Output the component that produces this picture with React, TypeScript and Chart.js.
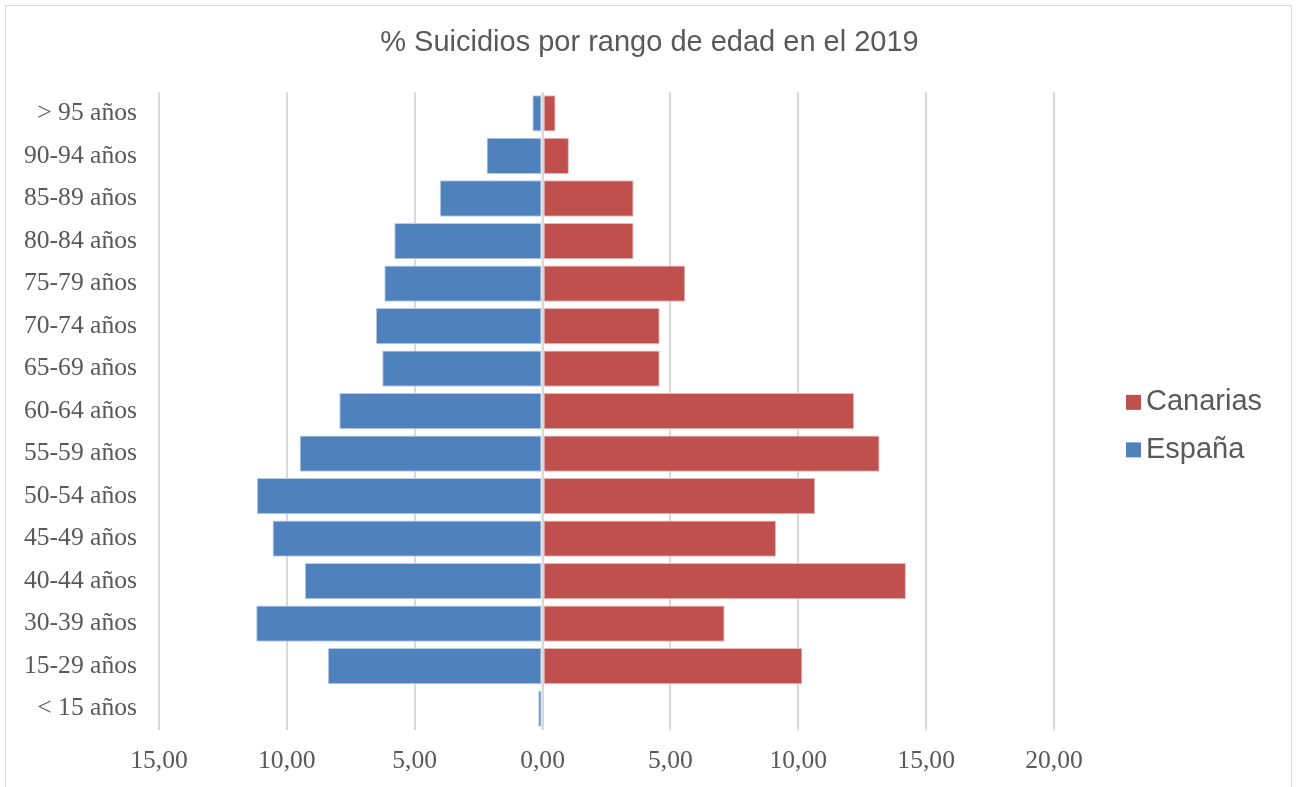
import React, { useEffect, useRef } from "react";
import { Chart, registerables, layouts } from "chart.js";

Chart.register(...registerables);

// Age ranges, top of the pyramid first
const ageRanges = [
  "> 95 años",
  "90-94 años",
  "85-89 años",
  "80-84 años",
  "75-79 años",
  "70-74 años",
  "65-69 años",
  "60-64 años",
  "55-59 años",
  "50-54 años",
  "45-49 años",
  "40-44 años",
  "30-39 años",
  "15-29 años",
  "< 15 años",
];

// Share of suicides (%) per age range
const espana = [0.4, 2.19, 4.02, 5.8, 6.19, 6.52, 6.27, 7.95, 9.5, 11.17, 10.56, 9.3, 11.2, 8.4, 0.17];
const canarias = [0.51, 1.03, 3.56, 3.56, 5.58, 4.58, 4.58, 12.18, 13.18, 10.66, 9.13, 14.21, 7.12, 10.16, 0];

const xTicks = [-15, -10, -5, 0, 5, 10, 15, 20];

const TITLE = "% Suicidios por rango de edad en el 2019";
const BLUE = "#4F81BD";
const RED = "#C0504D";
const TEXT = "#595959";
const GRID = "#D9D9D9";
const SERIF = '"Liberation Serif", "Times New Roman", serif';
const SANS = '"Liberation Sans", Arial, sans-serif';

const LEGEND_WIDTH = 245;

// Legend drawn in its own layout box on the right of the plot
const sideLegend = {
  id: "sideLegend",
  beforeInit(chart: any) {
    const box: any = {
      position: "right",
      weight: 100,
      fullSize: false,
      options: {},
      left: 0,
      top: 0,
      right: 0,
      bottom: 0,
      width: 0,
      height: 0,
      isHorizontal() {
        return false;
      },
      update(_maxWidth: number, maxHeight: number) {
        this.width = LEGEND_WIDTH;
        this.height = maxHeight;
      },
      draw() {
        const ctx = chart.ctx;
        const area = chart.chartArea;
        const items = chart.data.datasets
          .map((d: any) => ({ label: d.label, color: d.backgroundColor }))
          .reverse();
        const gap = 47.5;
        const mid = (area.top + area.bottom) / 2 + 15;
        const y0 = mid - (gap * (items.length - 1)) / 2;
        ctx.save();
        ctx.font = `29px ${SANS}`;
        ctx.textBaseline = "middle";
        ctx.textAlign = "left";
        items.forEach((it: any, i: number) => {
          const y = y0 + i * gap;
          const bx = this.left + 72;
          ctx.fillStyle = it.color;
          ctx.fillRect(bx, y - 7.5, 15, 15);
          ctx.fillStyle = TEXT;
          ctx.fillText(it.label, bx + 20, y);
        });
        ctx.restore();
      },
    };
    layouts.addBox(chart, box);
  },
};

// Category axis line at 0, drawn over the bars
const zeroLine = {
  id: "zeroLine",
  afterDatasetsDraw(chart: any) {
    const ctx = chart.ctx;
    const x = chart.scales.x.getPixelForValue(0);
    const { top, bottom } = chart.chartArea;
    ctx.save();
    ctx.strokeStyle = GRID;
    ctx.lineWidth = 2;
    ctx.beginPath();
    ctx.moveTo(x, top);
    ctx.lineTo(x, bottom);
    ctx.stroke();
    ctx.restore();
  },
};

export default function App() {
  const canvasRef = useRef<HTMLCanvasElement | null>(null);

  useEffect(() => {
    if (!canvasRef.current) return;
    const chart = new Chart(canvasRef.current, {
      type: "bar",
      data: {
        labels: ageRanges,
        datasets: [
          {
            label: "España",
            data: espana.map((v) => -v),
            backgroundColor: BLUE,
            borderColor: "#B9CDE5",
            borderWidth: 1,
            borderSkipped: false,
          },
          {
            label: "Canarias",
            data: canarias,
            backgroundColor: RED,
            borderColor: "#E6B9B8",
            borderWidth: 1,
            borderSkipped: false,
          },
        ],
      },
      options: {
        indexAxis: "y",
        responsive: false,
        animation: false,
        layout: { padding: 0 },
        datasets: {
          bar: { barPercentage: 0.853, categoryPercentage: 1.0 },
        },
        plugins: {
          legend: { display: false },
          tooltip: { enabled: false },
          title: {
            display: true,
            text: TITLE,
            color: TEXT,
            font: { family: SANS, size: 29, weight: "normal" },
            padding: { top: 26, bottom: 31.4 },
          },
        },
        scales: {
          x: {
            type: "linear",
            stacked: true,
            min: -15,
            max: 20,
            afterFit(s: any) {
              s.height = 57;
            },
            afterBuildTicks(s: any) {
              s.ticks = xTicks.map((v) => ({ value: v }));
            },
            grid: { color: GRID, lineWidth: 2, drawTicks: false },
            border: { display: false },
            ticks: {
              padding: 16,
              color: TEXT,
              font: { family: SERIF, size: 25.6 },
              callback: (v: any) => Math.abs(Number(v)).toFixed(2).replace(".", ","),
            },
          },
          y: {
            stacked: true,
            afterFit(s: any) {
              s.width = 159;
            },
            grid: { display: false, drawTicks: false },
            border: { display: false },
            ticks: {
              padding: 22,
              color: TEXT,
              font: { family: SERIF, size: 25.6 },
            },
          },
        },
      },
      plugins: [sideLegend, zeroLine],
    } as any);
    return () => chart.destroy();
  }, []);

  return (
    <div
      style={{
        position: "absolute",
        left: 0,
        top: 0,
        width: 1299,
        height: 787,
        overflow: "hidden",
        background: "#fff",
      }}
    >
      <div
        style={{
          position: "absolute",
          left: 5,
          top: 5,
          width: 1287,
          height: 900,
          border: "1px solid #D9D9D9",
          boxSizing: "border-box",
        }}
      />
      <canvas
        ref={canvasRef}
        width={1299}
        height={787}
        style={{ position: "absolute", left: 0, top: 0, display: "block" }}
      />
    </div>
  );
}
